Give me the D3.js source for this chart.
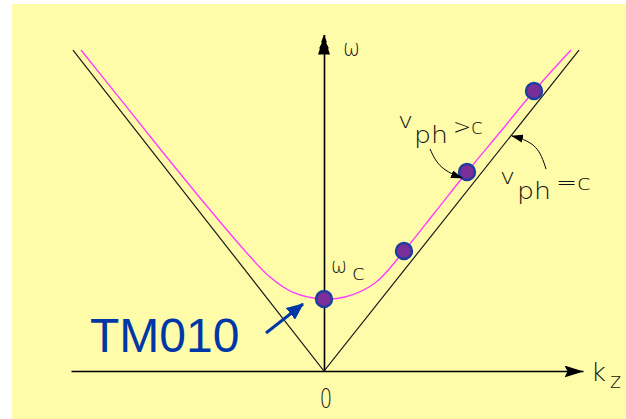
<!DOCTYPE html>
<html>
<head>
<meta charset="utf-8">
<script src="https://cdn.jsdelivr.net/npm/d3@7"></script>
<style>
  html, body { margin: 0; padding: 0; background: #ffffff; }
  svg { display: block; }
  .lbl { font-family: "DejaVu Sans ExtraLight", "DejaVu Sans", sans-serif; font-weight: 200; fill: #111; }
</style>
</head>
<body>
<svg id="chart" width="626" height="419"></svg>
<script>
// Dispersion diagram of a waveguide mode: light lines ω = ±c·kz and the
// TM mode branch starting at the cutoff frequency ωc.

// Light line (ω = c|kz|)
const lightK = [-5.02, 0, 5.10];
const lightW = [5.055, 0, 5.055];

// Waveguide mode branch
const modeK = [-4.86, -4.06, -3.26, -2.44, -1.60, -1.08, -0.62, 0, 0.42, 1.02, 1.60, 2.22, 2.86, 3.52, 4.20, 4.94];
const modeW = [5.055, 4.27, 3.48, 2.69, 1.91, 1.48, 1.24, 1.134, 1.165, 1.386, 1.89, 2.50, 3.134, 3.76, 4.41, 5.055];

// Highlighted operating points on the branch
const dotK = [0, 1.60, 2.86, 4.20];
const dotW = [1.134, 1.89, 3.134, 4.41];

// Axis tick labels
const xTicks = [0];
const xTickLabels = ["0"];

const svg = d3.select("#chart");

// Pale yellow panel
svg.append("rect").attr("x", 12).attr("y", 4).attr("width", 614).attr("height", 415).attr("fill", "#fffca9");

const x = d3.scaleLinear().domain([-5.06, 5.18]).range([71, 583]);
const y = d3.scaleLinear().domain([0, 5.3]).range([371, 34.5]);

const defs = svg.append("defs");
defs.append("marker").attr("id", "xhead").attr("viewBox", "0 0 20 12")
  .attr("refX", 19).attr("refY", 6).attr("markerWidth", 20).attr("markerHeight", 12)
  .attr("markerUnits", "userSpaceOnUse").attr("orient", "auto")
  .append("path").attr("d", "M0,0 L19,6 L0,12 L3,6 Z").attr("fill", "#000");

// x axis with a single tick at the origin
const xAxis = d3.axisBottom(x).tickValues(xTicks).tickSize(0).tickPadding(18)
  .tickFormat((d, i) => xTickLabels[i]);
const gx = svg.append("g").attr("transform", `translate(0,${y(0)})`).call(xAxis);
gx.select(".domain").attr("stroke", "#000").attr("stroke-width", 1.6).attr("marker-end", "url(#xhead)");
gx.selectAll(".tick text").attr("class", "lbl").attr("fill", "#111").attr("dx", 2)
  .style("font-size", "27px").attr("transform", "scale(0.72,1)");

// y axis
const yAxis = d3.axisLeft(y).tickValues([]).tickSize(0);
const gy = svg.append("g").attr("transform", `translate(${x(0)},0)`).call(yAxis);
gy.select(".domain").attr("stroke", "#000").attr("stroke-width", 1.6);
const yTop = y(5.3);
gy.append("path")
  .attr("d", `M0,${yTop} L-3,${yTop + 8} L-2,${yTop + 8} L-5,${yTop + 14} L-4,${yTop + 14} L-6,${yTop + 20} L6,${yTop + 20} L4,${yTop + 14} L5,${yTop + 14} L2,${yTop + 8} L3,${yTop + 8} Z`)
  .attr("fill", "#000");

// light lines
const line = d3.line().x(d => x(d[0])).y(d => y(d[1]));
svg.append("path").datum(lightK.map((k, i) => [k, lightW[i]]))
  .attr("d", line).attr("fill", "none").attr("stroke", "#1a1a1a").attr("stroke-width", 1.2);

// mode branch
const curve = d3.line().x(d => x(d[0])).y(d => y(d[1])).curve(d3.curveCatmullRom.alpha(0.5));
svg.append("path").datum(modeK.map((k, i) => [k, modeW[i]]))
  .attr("d", curve).attr("fill", "none").attr("stroke", "#ff3cff").attr("stroke-width", 1.4);

// points
svg.selectAll("circle.pt").data(dotK.map((k, i) => [k, dotW[i]])).join("circle")
  .attr("class", "pt").attr("cx", d => x(d[0])).attr("cy", d => y(d[1])).attr("r", 8)
  .attr("fill", "#7a2f98").attr("stroke", "#1d3f9f").attr("stroke-width", 2.4);

// text helper: a run of text squeezed or stretched to a given width
function word(x0, y0, size, str, width) {
  const t = svg.append("text").attr("class", "lbl").attr("x", x0).attr("y", y0)
    .attr("font-size", size).text(str);
  if (width) t.attr("textLength", width).attr("lengthAdjust", "spacingAndGlyphs");
  return t;
}

// axis names
word(343, 56, 23, "ω", 17);
word(591, 381, 25, "k", 15);
word(610, 388, 21, "z", 11);

// cutoff frequency
word(331, 273, 21, "ω", 16);
word(352, 280, 22, "c", 13);

// phase velocity annotations
word(398, 128, 21, "v", 15);
word(414, 143, 23, "ph", 34);
word(453, 134, 21, ">c", 30);

word(500, 184, 21, "v", 15);
word(517, 199, 23, "ph", 34);
word(556, 190, 21, "=c", 35);

// leader arrows
defs.append("marker").attr("id", "lead").attr("viewBox", "0 0 12 8")
  .attr("refX", 11).attr("refY", 4).attr("markerWidth", 12).attr("markerHeight", 8)
  .attr("markerUnits", "userSpaceOnUse").attr("orient", "auto")
  .append("path").attr("d", "M0,0 L12,4 L0,8 Z").attr("fill", "#000");
svg.append("path").attr("d", "M430,149 C436,162 440,170 462,178")
  .attr("fill", "none").attr("stroke", "#000").attr("stroke-width", 1).attr("marker-end", "url(#lead)");
svg.append("path").attr("d", "M546,169 C540,150 536,142 512,136")
  .attr("fill", "none").attr("stroke", "#000").attr("stroke-width", 1).attr("marker-end", "url(#lead)");

// TM010 callout
svg.append("text").attr("x", 90).attr("y", 352).attr("font-family", "Liberation Sans, Arial, sans-serif")
  .attr("font-size", 48).attr("fill", "#0037a6").text("TM010");
defs.append("marker").attr("id", "bhead").attr("viewBox", "0 0 16 14")
  .attr("refX", 15).attr("refY", 7).attr("markerWidth", 17).attr("markerHeight", 15)
  .attr("markerUnits", "userSpaceOnUse").attr("orient", "auto")
  .append("path").attr("d", "M0,0 L16,7 L0,14 Z").attr("fill", "#0037a6");
svg.append("line").attr("x1", 266).attr("y1", 333).attr("x2", 303).attr("y2", 304)
  .attr("stroke", "#0037a6").attr("stroke-width", 3).attr("marker-end", "url(#bhead)");
</script>
</body>
</html>
